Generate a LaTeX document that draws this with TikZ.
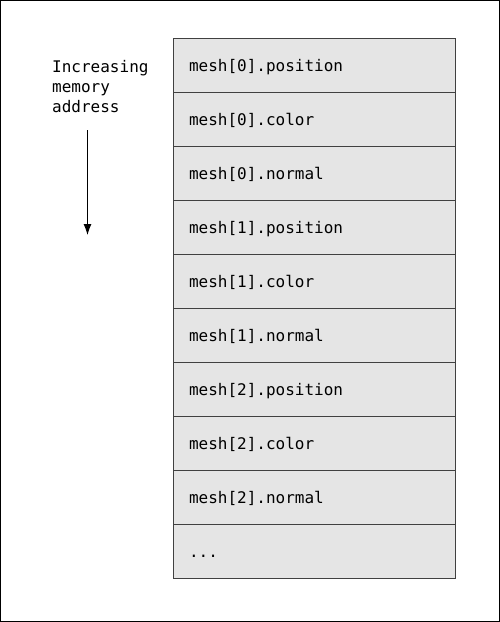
\documentclass[tikz,border=0pt]{standalone}
\usepackage{fontspec}
\setmonofont{DejaVu Sans Mono}
\usetikzlibrary{positioning,arrows.meta}

\begin{document}
\begin{tikzpicture}[x=1pt,y=-1pt,
  cell/.style={draw=black!75,fill=black!10,line width=0.9pt,outer sep=0pt,
    minimum width=282pt,minimum height=54pt,text width=250pt,inner xsep=16pt,
    text height=13pt,text depth=0pt,
    align=left,font=\ttfamily\fontsize{16}{20}\selectfont},
  note/.style={inner sep=0pt,align=left,font=\ttfamily\fontsize{16}{20}\selectfont}]
\useasboundingbox (0,0) rectangle (500,622);
\draw[line width=1pt] (0.5,0.5) rectangle (499.5,621.5); %frame

% memory layout
\node[cell] (pos0) at (314,65) {mesh[0].position};
\node[cell,below=0pt of pos0] (col0) {mesh[0].color};
\node[cell,below=0pt of col0] (nrm0) {mesh[0].normal};
\node[cell,below=0pt of nrm0] (pos1) {mesh[1].position};
\node[cell,below=0pt of pos1] (col1) {mesh[1].color};
\node[cell,below=0pt of col1] (nrm1) {mesh[1].normal};
\node[cell,below=0pt of nrm1] (pos2) {mesh[2].position};
\node[cell,below=0pt of pos2] (col2) {mesh[2].color};
\node[cell,below=0pt of col2] (nrm2) {mesh[2].normal};
\node[cell,below=0pt of nrm2] (rest) {...};

% direction
\node[note,anchor=north west] (addr) at (52,60) {Increasing\\memory\\address}; %label
\coordinate (arrtop) at (87.5,130);
\coordinate (arrtip) at (87.5,235);
\draw[line width=0.9pt,-{Latex[length=11pt,width=8pt]}] (arrtop) -- (arrtip);
\end{tikzpicture}
\end{document}
